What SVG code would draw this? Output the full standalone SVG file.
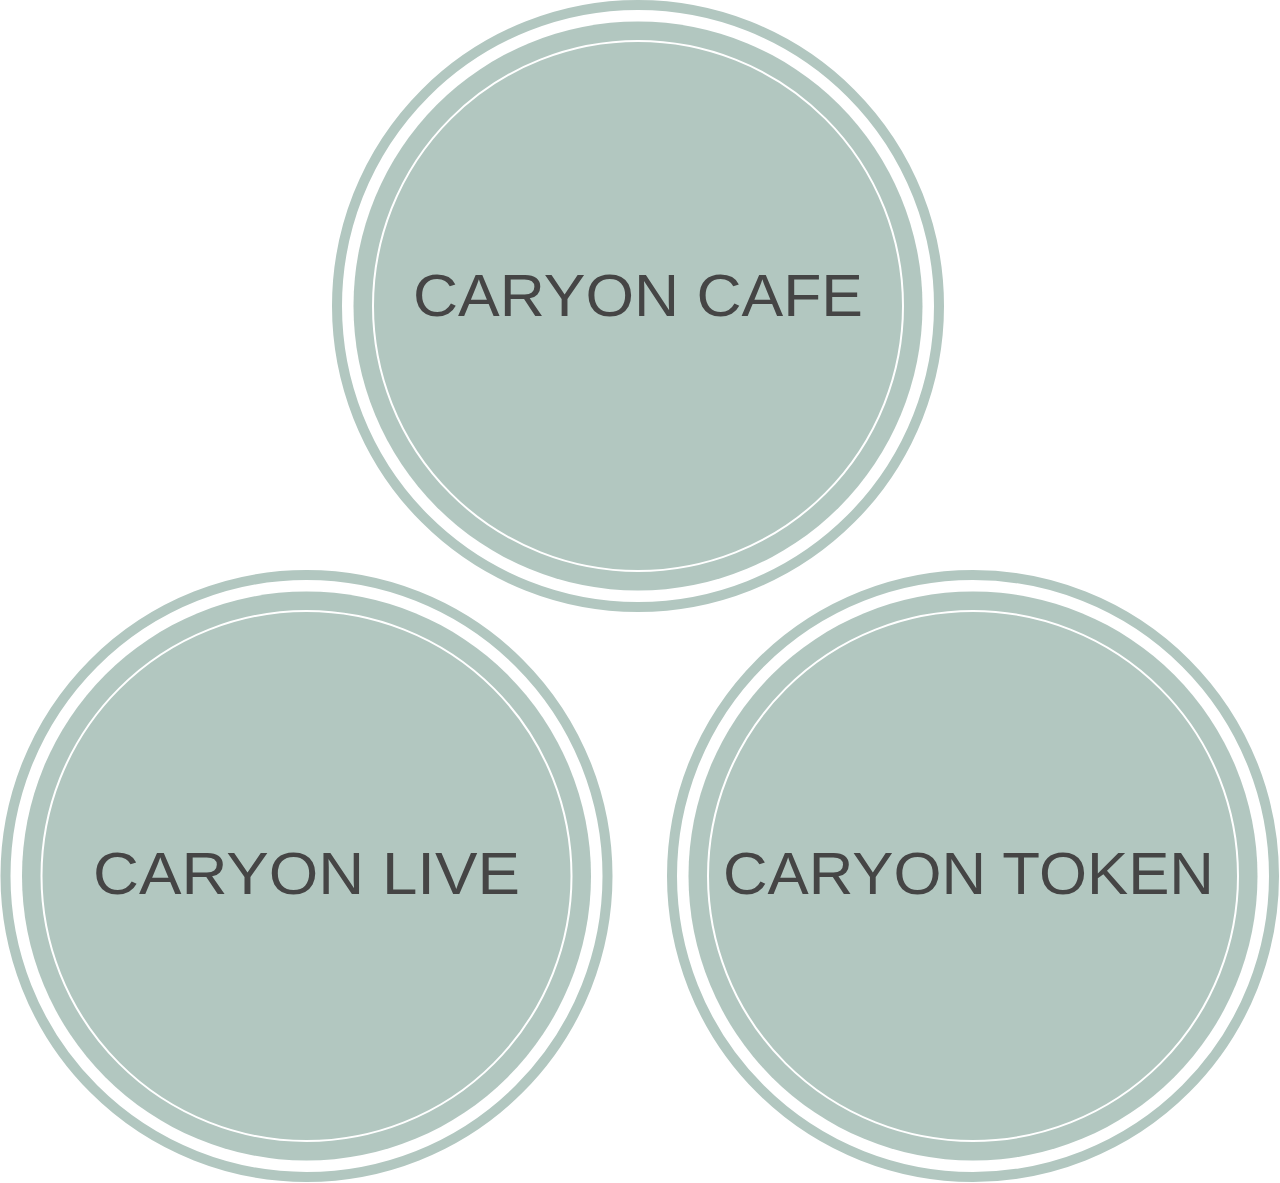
<svg xmlns="http://www.w3.org/2000/svg" width="1280" height="1183" viewBox="0 0 1280 1183">
<style>
.ring{fill:none;stroke:#b2c7c0;stroke-width:10}
.disc{fill:#b2c7c0}
.line{fill:none;stroke:#ffffff;stroke-width:2}
.lbl{font-family:"Liberation Sans",Arial,sans-serif;font-size:60px;fill:#454545;text-anchor:middle}
</style>
<rect width="1280" height="1183" fill="#ffffff"/>
<g id="connectors"></g>
<g id="node-cafe">
<circle class="ring" cx="638" cy="306" r="301"/>
<circle class="disc" cx="638" cy="306" r="284.5"/>
<circle class="line" cx="638" cy="306" r="265"/>
<text class="lbl" x="638" y="316" textLength="450" lengthAdjust="spacingAndGlyphs">CARYON CAFE</text>
</g>
<g id="node-live">
<circle class="ring" cx="306.5" cy="876" r="301"/>
<circle class="disc" cx="306.5" cy="876" r="284.5"/>
<circle class="line" cx="306.5" cy="876" r="265"/>
<text class="lbl" x="306.5" y="894" textLength="427" lengthAdjust="spacingAndGlyphs">CARYON LIVE</text>
</g>
<g id="node-token">
<circle class="ring" cx="973" cy="876" r="301"/>
<circle class="disc" cx="973" cy="876" r="284.5"/>
<circle class="line" cx="973" cy="876" r="265"/>
<text class="lbl" x="968.5" y="894" textLength="491" lengthAdjust="spacingAndGlyphs">CARYON TOKEN</text>
</g>
</svg>
